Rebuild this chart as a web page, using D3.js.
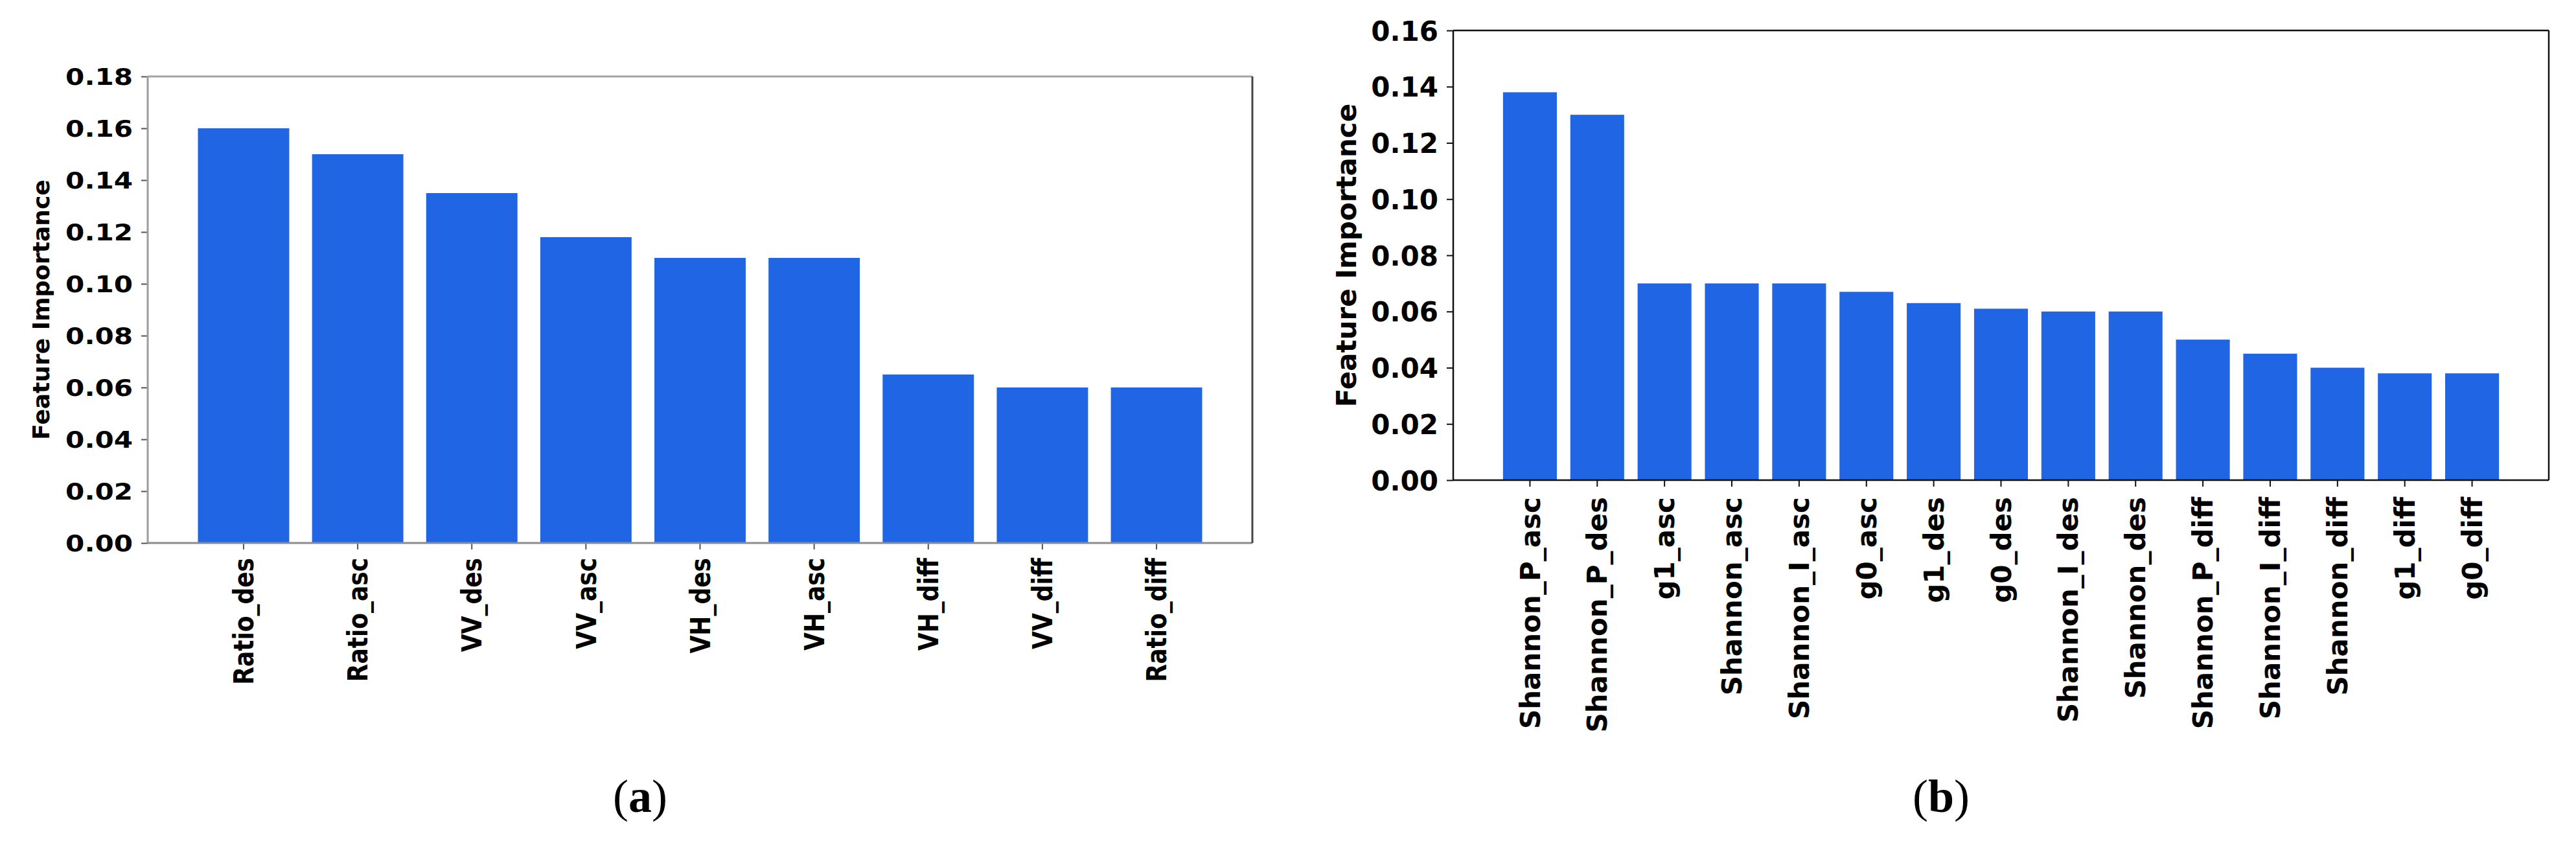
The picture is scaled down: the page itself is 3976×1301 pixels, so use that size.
<!DOCTYPE html>
<html>
<head>
<meta charset="utf-8">
<script src="https://cdn.jsdelivr.net/npm/d3@7"></script>
<style>
  html, body { margin: 0; padding: 0; background: #fff; }
  svg { display: block; }
</style>
</head>
<body>
<svg id="chart" width="3976" height="1301"></svg>
<script>
// ---- Data ----
const categoriesA = ["Ratio_des", "Ratio_asc", "VV_des", "VV_asc", "VH_des", "VH_asc", "VH_diff", "VV_diff", "Ratio_diff"];
const valuesA = [0.160, 0.150, 0.135, 0.118, 0.110, 0.110, 0.065, 0.060, 0.060];
const ticksA = [0.00, 0.02, 0.04, 0.06, 0.08, 0.10, 0.12, 0.14, 0.16, 0.18];

const categoriesB = ["Shannon_P_asc", "Shannon_P_des", "g1_asc", "Shannon_asc", "Shannon_I_asc", "g0_asc", "g1_des", "g0_des", "Shannon_I_des", "Shannon_des", "Shannon_P_diff", "Shannon_I_diff", "Shannon_diff", "g1_diff", "g0_diff"];
const valuesB = [0.138, 0.130, 0.070, 0.070, 0.070, 0.067, 0.063, 0.061, 0.060, 0.060, 0.050, 0.045, 0.040, 0.038, 0.038];
const ticksB = [0.00, 0.02, 0.04, 0.06, 0.08, 0.10, 0.12, 0.14, 0.16];

const yLabel = "Feature Importance";
const BAR = "#2065e4";
const FONT = "'DejaVu Sans', Verdana, sans-serif";

const svg = d3.select("#chart");
svg.append("rect").attr("width", 3976).attr("height", 1301).attr("fill", "#fff");

function panel(cfg) {
  const { cats, vals, ticks, x0, x1, yTop, yBot, yMax, fs, sx, tickLen, yPad, xPad,
          spine, ylabX, caption, capX } = cfg;
  const g = svg.append("g");
  const x = d3.scaleBand().domain(cats).range([x0, x1])
      .paddingInner(0.2).paddingOuter(0.05 * (cats.length - 0.2)).align(0.5);
  const y = d3.scaleLinear().domain([0, yMax]).range([yBot, yTop]);

  // bars
  g.selectAll("rect.bar").data(vals).enter().append("rect")
    .attr("class", "bar")
    .attr("x", (d, i) => x(cats[i]))
    .attr("width", x.bandwidth())
    .attr("y", d => y(d))
    .attr("height", d => yBot - y(d))
    .attr("fill", BAR);

  // y axis
  const ya = g.append("g").attr("transform", `translate(${x0},0)`)
    .call(d3.axisLeft(y).tickValues(ticks).tickFormat(d3.format(".2f")).tickSize(tickLen).tickPadding(0));
  ya.select(".domain").remove();
  ya.selectAll(".tick line").attr("stroke", spine.tick).attr("stroke-width", 2);
  ya.selectAll(".tick text")
    .attr("x", null).attr("dy", "0.36em")
    .attr("transform", `translate(${-(tickLen + yPad)},0) scale(${sx},1)`)
    .attr("font-family", FONT).attr("font-weight", "bold").attr("font-size", fs).attr("fill", "#000");

  // x axis
  const xa = g.append("g").attr("transform", `translate(0,${yBot})`)
    .call(d3.axisBottom(x).tickSize(tickLen).tickPadding(0));
  xa.select(".domain").remove();
  xa.selectAll(".tick line").attr("stroke", spine.tick).attr("stroke-width", 2);
  xa.selectAll(".tick text")
    .attr("y", null).attr("dy", "0.36em")
    .attr("text-anchor", "end")
    .attr("transform", `translate(0,${tickLen + xPad}) scale(${sx},1) rotate(-90)`)
    .attr("font-family", FONT).attr("font-weight", "bold").attr("font-size", fs).attr("fill", "#000");

  // spines
  const sw = spine.w;
  g.append("line").attr("x1", x0).attr("x2", x0).attr("y1", yTop).attr("y2", yBot)
    .attr("stroke", spine.left).attr("stroke-width", sw);
  g.append("line").attr("x1", x0).attr("x2", x1).attr("y1", yBot).attr("y2", yBot)
    .attr("stroke", spine.bottom).attr("stroke-width", sw);
  g.append("line").attr("x1", x0).attr("x2", x1).attr("y1", yTop).attr("y2", yTop)
    .attr("stroke", spine.top).attr("stroke-width", sw);
  g.append("line").attr("x1", x1).attr("x2", x1).attr("y1", yTop).attr("y2", yBot)
    .attr("stroke", spine.right).attr("stroke-width", sw);

  // y label
  g.append("text")
    .attr("transform", `translate(${ylabX},${(yTop + yBot) / 2}) rotate(-90)`)
    .attr("text-anchor", "middle").attr("dy", "0.36em")
    .attr("font-family", FONT).attr("font-weight", "bold").attr("font-size", cfg.ylfs)
    .attr("fill", "#000").text(yLabel);

  // caption
  const c = g.append("text").attr("x", capX).attr("y", 1253)
    .attr("text-anchor", "middle")
    .attr("font-family", "'Liberation Serif', 'Times New Roman', serif").attr("font-size", 72)
    .attr("fill", "#000");
  c.append("tspan").text("(");
  c.append("tspan").attr("font-weight", "bold").text(caption);
  c.append("tspan").text(")");
}

panel({
  cats: categoriesA, vals: valuesA, ticks: ticksA,
  x0: 228, x1: 1933, yTop: 118, yBot: 838, yMax: 0.18,
  fs: 36, sx: 1.17, ylfs: 36, tickLen: 10, yPad: 13, xPad: 13,
  spine: { w: 3, left: "#9c9c9c", bottom: "#8c8c8c", top: "#a4a4a4", right: "#444", tick: "#555" },
  ylabX: 63, caption: "a", capX: 988
});

panel({
  cats: categoriesB, vals: valuesB, ticks: ticksB,
  x0: 2243, x1: 3934, yTop: 47, yBot: 741, yMax: 0.16,
  fs: 42, sx: 1.0, ylfs: 42, tickLen: 10, yPad: 13, xPad: 16,
  spine: { w: 2.5, left: "#111", bottom: "#111", top: "#111", right: "#111", tick: "#111" },
  ylabX: 2078, caption: "b", capX: 2996
});
</script>
</body>
</html>
